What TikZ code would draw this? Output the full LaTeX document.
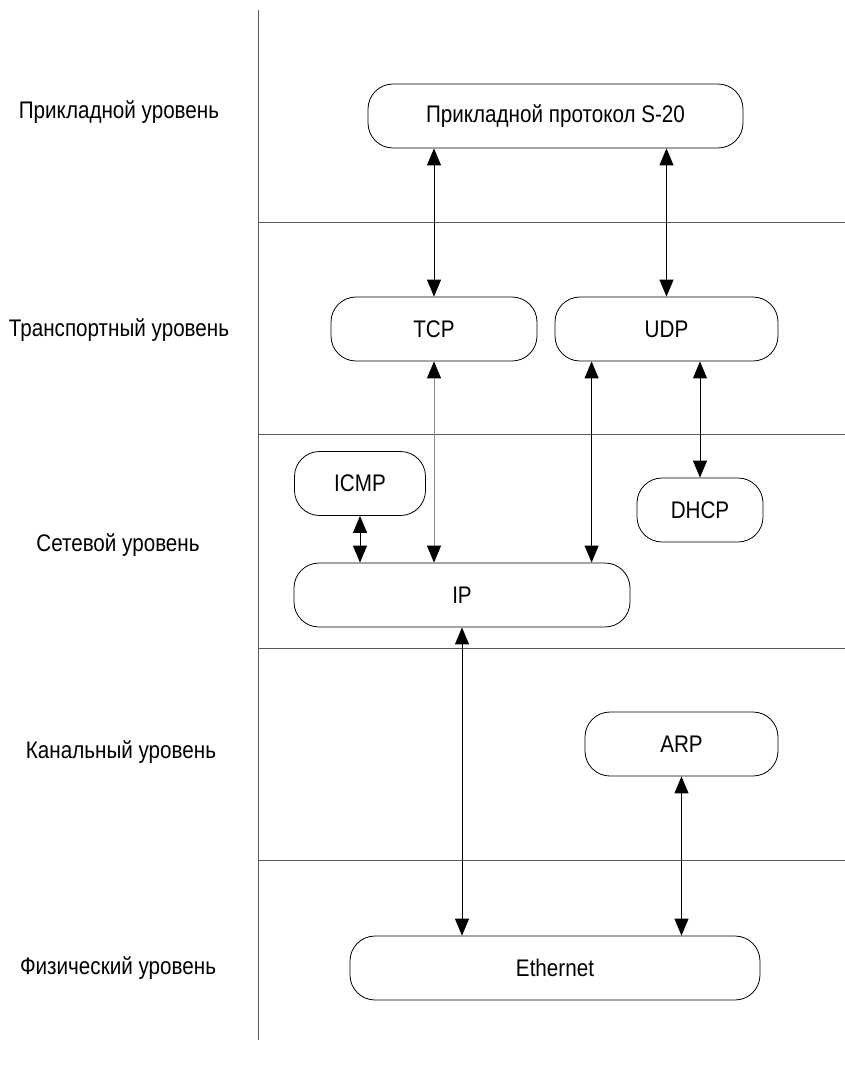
\documentclass[tikz,border=0pt]{standalone}
\usepackage{fontspec}
\setmainfont[FakeStretch=0.86]{Liberation Sans}
\usetikzlibrary{positioning, arrows.meta}

\tikzset{
    proto/.style={draw, line width=0.8pt, rounded corners=25pt, minimum height=64pt, inner sep=0pt},
    layer/.style={inner sep=0pt},
    sep/.style={draw=black!65, line width=0.8pt},
    link/.style={{Triangle[length=17pt,width=14pt,color=black]}-{Triangle[length=17pt,width=14pt,color=black]}, line width=1pt}
}

\begin{document}
\begin{tikzpicture}[x=1pt, y=-1pt, font=\fontsize{24}{28}\selectfont]
        \useasboundingbox (0,0) rectangle (845,1069);

        % levels
        \draw[sep] (258,10) -- (258,1040);
        \foreach \y in {222,434,648,860}
            \draw[sep] (258,\y) -- (845,\y);

        \node[layer] (l1) at (119,112) {Прикладной уровень};
        \node[layer] (l2) at (119,330) {Транспортный уровень};
        \node[layer] (l3) at (118,545) {Сетевой уровень};
        \node[layer] (l4) at (121,752) {Канальный уровень};
        \node[layer] (l5) at (118,968) {Физический уровень};

        % protocols
        \node[proto, minimum width=375pt] (app) at (555.5,116) {Прикладной протокол S-20};
        \node[proto, minimum width=206pt] (tcp) at (434,329) {TCP};
        \node[proto, minimum width=223pt] (udp) at (666.5,329) {UDP};
        \node[proto, minimum width=131pt] (icmp) at (360,483.5) {ICMP};
        \node[proto, minimum width=126pt] (dhcp) at (700,510) {DHCP};
        \node[proto, minimum width=336pt] (ip) at (462,595) {IP};
        \node[proto, minimum width=193pt] (arp) at (681.5,744) {ARP};
        \node[proto, minimum width=410pt] (eth) at (555,968) {Ethernet};

        \draw[link] (tcp.north) -- (tcp.north |- app.south);
        \draw[link] (udp.north) -- (udp.north |- app.south);
        \draw[link, black!45] (tcp.south) -- (tcp.south |- ip.north);
        \draw[link] ([xshift=37pt]udp.south west) -- ([xshift=37pt]udp.south west |- ip.north);
        \draw[link] (dhcp.north) -- (dhcp.north |- udp.south);
        \draw[link] (icmp.south) -- (icmp.south |- ip.north);
        \draw[link] (ip.south) -- (ip.south |- eth.north);
        \draw[link] (arp.south) -- (arp.south |- eth.north);
    \end{tikzpicture}
\end{document}
